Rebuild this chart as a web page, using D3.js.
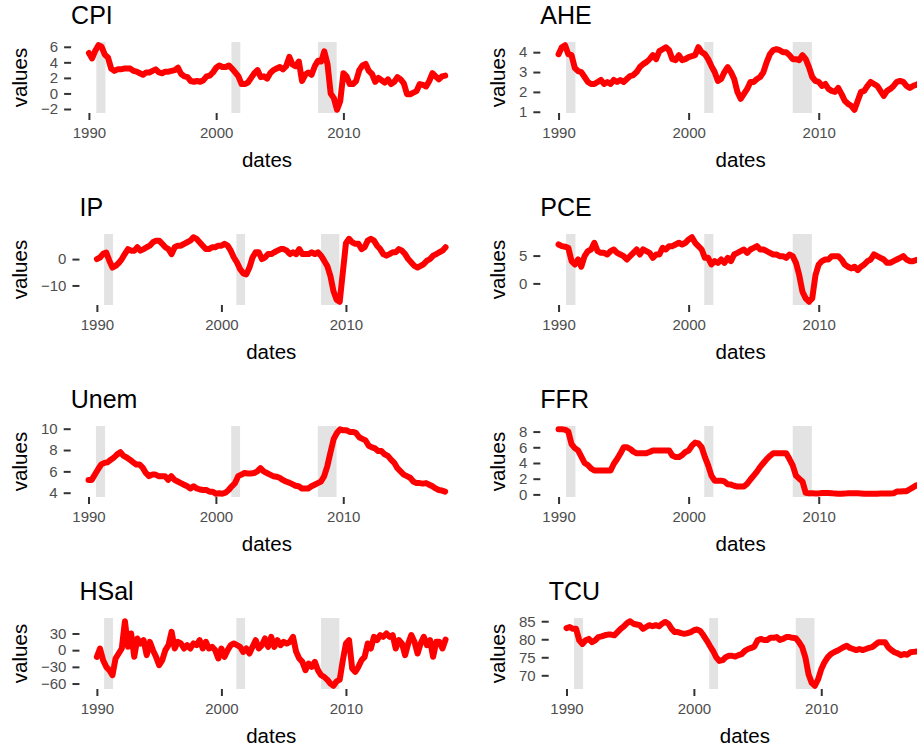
<!DOCTYPE html>
<html>
<head>
<meta charset="utf-8">
<script src="https://cdn.jsdelivr.net/npm/d3@7"></script>
<style>
html, body { margin: 0; padding: 0; background: #fff; overflow: hidden; }
text { font-family: "Liberation Sans", Arial, Helvetica, sans-serif; }
</style>
</head>
<body>
<svg id="chart" width="960" height="750"></svg>
<script>
// quarterly dates, 1990 Q1 .. 2018 Q1
var dates = d3.range(0, 113).map(function(i) { return 1990 + i / 4; });
var xTicks = [1990, 2000, 2010];
// NBER recessions (start, end)
var recessions = [[1990.58, 1991.3], [2001.2, 2001.9], [2008.0, 2009.47]];

var cpi = [5.2, 4.5, 5.5, 6.2,  6.0, 5.0, 4.6, 3.2,  2.9, 3.1, 3.1, 3.2,  3.2, 3.2, 2.9, 2.8,
  2.6, 2.4, 2.7, 2.7,  2.9, 3.1, 2.7, 2.6,  2.8, 2.8, 2.9, 3.0,  3.3, 2.5, 2.2, 2.1,
  1.6, 1.5, 1.6, 1.5,  1.7, 2.2, 2.3, 2.7,  3.3, 3.6, 3.4, 3.4,  3.6, 3.2, 2.7, 2.2,
  1.2, 1.2, 1.4, 2.0,  2.6, 3.0, 2.1, 2.2,  1.9, 2.6, 3.0, 3.2,  3.4, 3.1, 3.5, 4.7,
  3.7, 3.5, 4.1, 1.6,  2.4, 2.7, 2.4, 3.5,  4.2, 4.1, 5.4, 3.8,  0.0, -0.6, -2.1, -1.0,
  2.6, 2.2, 1.2, 1.2,  1.6, 3.0, 3.6, 3.8,  2.9, 2.5, 1.5, 2.0,  1.7, 1.4, 1.8, 1.2,
  1.5, 2.1, 1.8, 1.3,  -0.1, -0.1, 0.1, 0.3,  1.2, 1.1, 0.9, 1.6,  2.6, 2.2, 1.8, 2.2,  2.3];
var ahe = [3.9, 4.25, 4.35, 3.9,  3.85, 3.2, 3.05, 3.0,  2.75, 2.5, 2.4, 2.4,  2.5, 2.6, 2.4, 2.5,
  2.4, 2.6, 2.5, 2.6,  2.5, 2.65, 2.8, 2.85,  3.0, 3.25, 3.4, 3.5,  3.65, 3.85, 3.65, 4.05,
  4.15, 4.25, 4.1, 3.65,  3.6, 3.85, 3.6, 3.65,  3.75, 3.8, 3.85, 4.25,  4.0, 3.9, 3.65, 3.3,
  3.0, 2.55, 2.65, 3.0,  3.25, 3.0, 2.65, 2.0,  1.65, 1.9, 2.15, 2.5,  2.5, 2.65, 2.75, 3.0,
  3.5, 3.9, 4.1, 4.15,  4.1, 4.0, 4.0, 3.85,  3.65, 3.65, 3.6, 3.85,  3.65, 3.25, 2.75, 2.55,
  2.5, 2.3, 2.4, 2.15,  2.05, 2.0, 2.2, 1.9,  1.55, 1.4, 1.3, 1.1,  1.55, 2.0, 2.05, 2.3,
  2.5, 2.4, 2.3, 2.05,  1.8, 2.05, 2.15, 2.3,  2.5, 2.55, 2.5, 2.3,  2.2, 2.3, 2.35, 2.45,  2.5];
var ip = [0, 0.6, 2.0, 2.5,  -0.6, -3.2, -2.6, -1.5,  0, 2.0, 3.8, 3.2,  3.2, 4.5, 3.2, 3.8,
  4.5, 5.1, 6.4, 7.0,  7.0, 5.8, 4.5, 3.8,  1.9, 4.5, 5.1, 5.1,  5.8, 6.4, 7.0, 8.3,
  7.7, 6.4, 5.1, 3.8,  3.8, 4.5, 4.5, 5.1,  5.1, 5.8, 5.1, 3.2,  0.6, -1.3, -3.8, -5.4,
  -5.8, -3.2, 0.6, 2.6,  2.6, 0, 0.6, 1.9,  1.9, 2.6, 3.2, 3.8,  3.8, 3.2, 1.9, 2.6,
  1.9, 3.8, 1.9, 1.9,  1.9, 2.6, 1.9, 2.6,  1.3, -0.6, -2.6, -6.4,  -12.2, -15.4, -16.2, -5.0,
  6.0, 7.7, 6.4, 5.8,  5.8, 3.8, 4.5, 7.0,  7.7, 7.0, 5.1, 3.8,  1.9, 1.3, 1.9, 2.6,
  2.6, 3.8, 3.2, 1.9,  0, -1.3, -2.6, -3.2,  -2.6, -1.9, -0.6, 0,  1.3, 1.9, 2.6, 3.2,  4.5];
var pce = [7.0, 6.7, 6.6, 6.4,  4.0, 3.4, 4.3, 3.0,  4.9, 5.8, 6.1, 7.3,  5.8, 5.5, 5.5, 5.2,
  5.8, 6.1, 5.5, 5.2,  4.9, 4.3, 4.9, 5.5,  6.1, 5.2, 6.1, 5.8,  5.5, 4.6, 5.2, 5.2,
  6.4, 6.1, 6.7, 6.7,  7.0, 7.3, 7.0, 7.3,  7.9, 8.3, 7.3, 6.7,  6.1, 4.6, 4.6, 3.4,
  4.0, 3.7, 4.3, 3.7,  4.6, 4.0, 5.2, 5.5,  5.8, 6.1, 5.5, 6.1,  6.4, 6.7, 6.1, 6.1,
  5.8, 5.5, 5.2, 5.2,  4.9, 4.9, 4.6, 5.2,  4.9, 3.7, 1.5, -1.5,  -2.7, -3.3, -2.7, 1.5,
  3.4, 4.0, 4.3, 4.3,  4.9, 4.9, 4.9, 4.3,  3.4, 3.0, 2.7, 3.0,  2.4, 3.0, 3.4, 4.0,
  4.3, 5.2, 4.9, 4.6,  4.3, 3.7, 3.7, 4.0,  4.3, 4.6, 4.9, 4.3,  4.0, 4.0, 4.2, 4.4,  4.5];
var unem = [5.2, 5.2, 5.7, 6.2,  6.65, 6.8, 6.85, 7.1,  7.3, 7.6, 7.8, 7.45,  7.3, 7.1, 6.85, 6.65,
  6.65, 6.35, 5.85, 5.55,  5.7, 5.7, 5.55, 5.55,  5.55, 5.2, 5.55, 5.2,  5.05, 4.9, 4.75, 4.6,
  4.4, 4.6, 4.4, 4.3,  4.25, 4.25, 4.1, 4.1,  3.9, 3.95, 3.9, 4.0,  4.25, 4.6, 4.9, 5.55,
  5.7, 5.85, 5.8, 5.8,  5.85, 6.0, 6.3, 6.0,  5.85, 5.7, 5.55, 5.5,  5.4, 5.2, 5.05, 4.95,
  4.8, 4.65, 4.6, 4.4,  4.4, 4.4, 4.6, 4.75,  4.9, 5.05, 5.55, 6.5,  7.8, 9.05, 9.6, 9.95,
  9.85, 9.85, 9.7, 9.7,  9.6, 9.2, 9.05, 8.9,  8.4, 8.25, 8.15, 7.9,  7.9, 7.6, 7.45, 7.1,
  6.8, 6.3, 6.0, 5.7,  5.55, 5.4, 5.05, 4.9,  4.9, 4.85, 4.9, 4.75,  4.6, 4.4, 4.25, 4.2,  4.1];
var ffr = [8.3, 8.3, 8.25, 8.0,  6.4, 5.9, 5.6, 4.8,  4.0, 3.75, 3.3, 3.05,  3.05, 3.05, 3.05, 3.05,
  3.05, 3.9, 4.5, 5.2,  6.0, 6.0, 5.8, 5.45,  5.25, 5.25, 5.25, 5.25,  5.4, 5.6, 5.6, 5.6,
  5.6, 5.6, 5.6, 4.95,  4.75, 4.75, 5.0, 5.4,  5.6, 6.2, 6.6, 6.5,  6.0, 4.75, 3.7, 2.4,
  1.75, 1.75, 1.75, 1.65,  1.3, 1.25, 1.1, 1.0,  1.0, 1.0, 1.35, 1.9,  2.4, 2.9, 3.5, 4.0,
  4.5, 4.9, 5.25, 5.25,  5.25, 5.25, 5.25, 4.5,  3.7, 2.4, 2.0, 1.65,  0.2, 0.15, 0.15, 0.12,
  0.13, 0.18, 0.19, 0.19,  0.16, 0.1, 0.09, 0.08,  0.1, 0.14, 0.15, 0.16,  0.14, 0.12, 0.09, 0.09,
  0.08, 0.09, 0.09, 0.1,  0.11, 0.12, 0.13, 0.14,  0.36, 0.37, 0.4, 0.41,  0.66, 0.9, 1.15, 1.16,  1.41];
var hsal = [-12, 3, -18, -30,  -36, -45, -15, -6,  3, 52, 6, 30,  -12, 21, 12, 18,
  -9, 15, 0, -12,  -27, -18, 0, 9,  33, 3, 15, 12,  3, 9, 3, 12,
  9, 18, 3, 15,  3, 6, 0, -15,  3, -12, 0, 9,  12, 9, 6, -3,
  3, -6, 6, 18,  3, 9, 21, 6,  24, 6, 18, 9,  15, 12, 15, 24,
  -3, -15, -21, -36,  -24, -30, -21, -36,  -45, -48, -53, -60,  -64, -56, -53, -18,
  12, 18, -33, -39,  -30, -18, -12, 12,  3, 24, 18, 27,  24, 30, 24, 27,
  3, 18, 12, -9,  12, 27, 15, -6,  12, 24, 9, 18,  -12, 15, 15, 3,  19];
var tcu = [83.1, 83.4, 82.9, 82.9,  79.7, 78.7, 79.7, 80.1,  79.2, 79.7, 80.6, 80.8,  81.1, 81.3, 81.3, 81.1,
  82.0, 82.9, 83.6, 84.5,  85.0, 84.3, 84.1, 83.9,  82.9, 83.4, 83.9, 83.6,  83.9, 83.6, 84.3, 84.8,
  84.3, 82.9, 82.0, 82.0,  81.7, 81.5, 81.7, 82.0,  82.5, 82.7, 82.3, 81.1,  79.7, 78.2, 76.8, 75.0,
  74.0, 74.2, 75.0, 75.4,  75.4, 75.2, 75.6, 75.9,  76.8, 77.3, 77.6, 78.0,  79.7, 80.1, 79.8, 79.8,
  80.4, 80.4, 80.6, 79.8,  80.1, 80.6, 80.6, 80.4,  80.3, 79.2, 77.8, 75.0,  70.3, 67.9, 67.1, 68.9,
  71.7, 73.6, 75.0, 75.9,  76.4, 76.8, 77.3, 77.8,  78.2, 77.6, 77.3, 77.0,  77.3, 77.0, 77.3, 77.6,
  77.8, 78.5, 79.2, 79.2,  79.2, 77.8, 77.0, 76.4,  76.1, 75.6, 75.9, 75.7,  76.4, 76.5, 76.6, 76.6,  77.0];

var titles = ["CPI", "AHE", "IP", "PCE", "Unem", "FFR", "HSal", "TCU"];
var series = [cpi, ahe, ip, pce, unem, ffr, hsal, tcu];
var yTicks = [[-2, 0, 2, 4, 6], [1, 2, 3, 4], [-10, 0], [0, 5],
              [4, 6, 8, 10], [0, 2, 4, 6, 8], [-60, -30, 0, 30], [70, 75, 80, 85]];

var svg = d3.select("#chart");

// minus sign like ggplot
var fmt = function(d) { return d < 0 ? "\u2212" + Math.abs(d) : String(d); };

// used to measure tick label widths
var meas = svg.append("text").style("font-size", "15px").attr("x", -100).attr("y", -100);
var textW = function(s) { meas.text(s); return meas.node().getComputedTextLength(); };

titles.forEach(function(title, k) {
  var row = Math.floor(k / 2), col = k % 2;
  var cx = col * 478;
  var top = 42 + row * 192, bottom = top + 71;
  var maxW = d3.max(yTicks[k], function(t) { return textW(fmt(t)); });
  var left = cx + 41 + maxW + 13, right = cx + 463;

  var x = d3.scaleLinear().domain([1990 - 1.4, 2018 + 1.4]).range([left, right]);
  var ext = d3.extent(series[k]), pad = (ext[1] - ext[0]) * 0.05;
  var y = d3.scaleLinear().domain([ext[0] - pad, ext[1] + pad]).range([bottom, top]);

  var g = svg.append("g");

  g.selectAll("rect.rec")
      .data(recessions)
    .enter().append("rect")
      .attr("class", "rec")
      .attr("x", function(d) { return x(d[0]); })
      .attr("width", function(d) { return x(d[1]) - x(d[0]); })
      .attr("y", top)
      .attr("height", bottom - top)
      .style("fill", "#e3e3e3");

  var line = d3.line()
      .x(function(d, i) { return x(dates[i]); })
      .y(function(d) { return y(d); });

  g.append("path")
      .datum(series[k])
      .attr("d", line)
      .style("fill", "none")
      .style("stroke", "#ff0000")
      .style("stroke-width", 6)
      .style("stroke-linejoin", "round")
      .style("stroke-linecap", "round");

  var xa = g.append("g")
      .attr("transform", "translate(0," + bottom + ")")
      .call(d3.axisBottom(x).tickValues(xTicks).tickFormat(d3.format("d")).tickSize(7).tickPadding(7));
  var ya = g.append("g")
      .attr("transform", "translate(" + left + ",0)")
      .call(d3.axisLeft(y).tickValues(yTicks[k]).tickFormat(fmt).tickSize(7).tickPadding(6));

  [xa, ya].forEach(function(a) {
    a.select(".domain").remove();
    a.attr("font-family", null).attr("font-size", null);
    a.selectAll(".tick line").style("stroke", "#333").style("stroke-width", 2);
    a.selectAll(".tick text").style("fill", "#4d4d4d").style("font-size", "15px");
  });

  g.append("text")
      .attr("x", left)
      .attr("y", top - 18)
      .style("font-size", "25px")
      .style("fill", "#000")
      .text(title);

  g.append("text")
      .attr("transform", "translate(" + (cx + 27) + "," + ((top + bottom) / 2) + ") rotate(-90)")
      .attr("text-anchor", "middle")
      .style("font-size", "20.5px")
      .text("values");

  g.append("text")
      .attr("x", (left + right) / 2)
      .attr("y", bottom + 54)
      .attr("text-anchor", "middle")
      .style("font-size", "20.5px")
      .text("dates");
});

meas.remove();
</script>
</body>
</html>
